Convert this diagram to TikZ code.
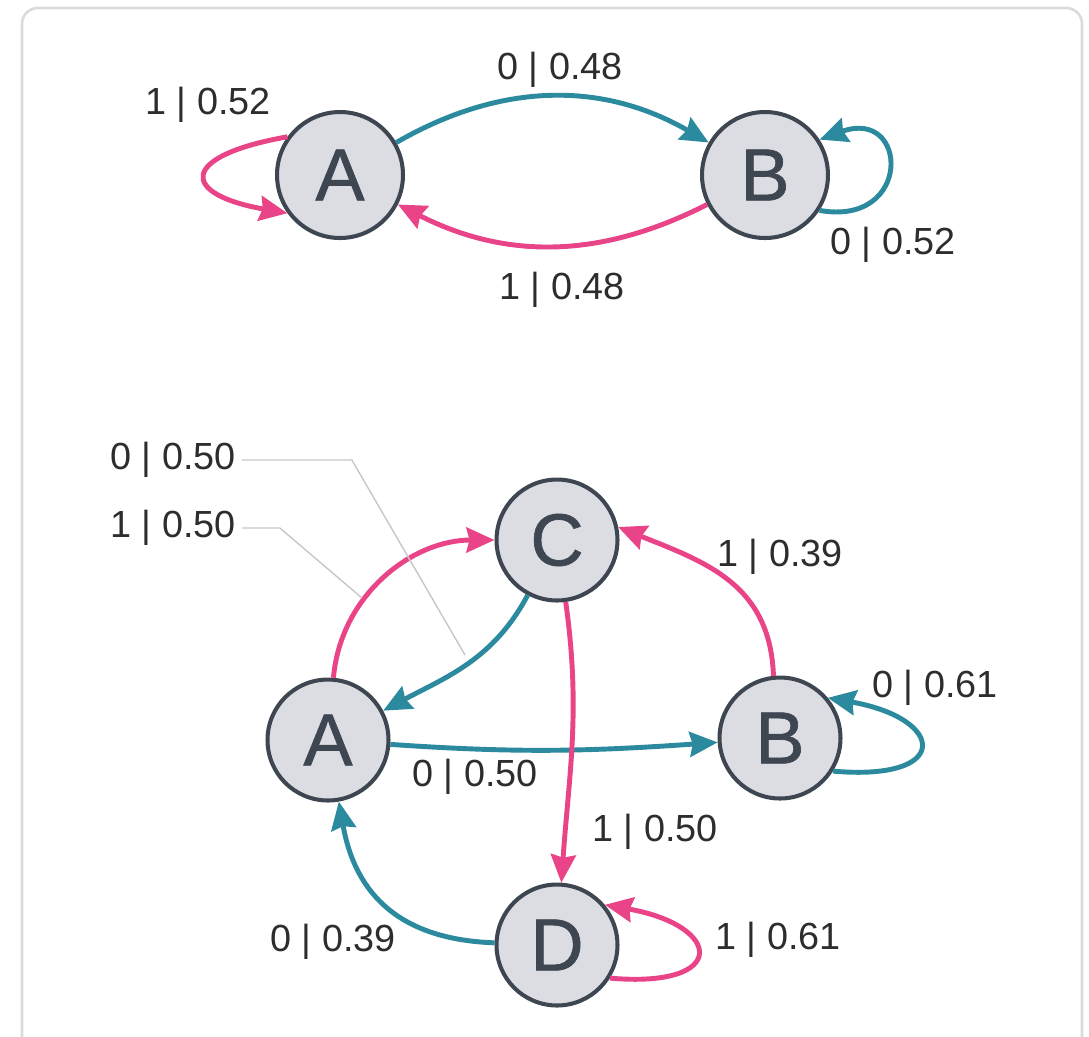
\documentclass[tikz,border=0pt]{standalone}
\usepackage{fontspec}
\setmainfont{Liberation Sans}
\newfontfamily\letterfont[FakeBold=0.9]{Liberation Sans}
\usetikzlibrary{arrows.meta}
\definecolor{teal0}{RGB}{44,138,158}
\definecolor{pink1}{RGB}{232,68,135}
\definecolor{slate}{RGB}{62,70,82}
\definecolor{disc}{RGB}{220,221,226}
\definecolor{ink}{RGB}{45,45,48}

\begin{document}
\begin{tikzpicture}[x=0.02cm, y=0.02cm,
	every node/.style={font=\fontsize{21.5}{24}\selectfont, text=ink},
	state/.style={circle, draw=slate, fill=disc, line width=2.3pt, minimum size=2.42cm, inner sep=0pt, font=\letterfont\fontsize{42}{44}\selectfont, text=slate},
	trans/.style={line width=2.8pt, -{Stealth[length=0.56cm,width=0.5cm,inset=0.06cm]}},
	zero/.style={trans, draw=teal0},
	one/.style={trans, draw=pink1},
	leader/.style={draw=black!22, line width=0.8pt}]
	\clip (0,0) rectangle (1089,-1036);
	\draw[black!14, line width=1.5pt, rounded corners=9] (22,-8) rectangle (1082,-1080);
	\node[state, minimum size=2.52cm] (A1) at (340,-175) {A};
	\node[state, minimum size=2.52cm] (B1) at (765,-175) {B};
	\draw[zero] (A1) to[out=30, in=150] (B1);
	\draw[one] (B1) to[out=207, in=-27] (A1);
	\draw[one] (A1.144) to[out=190, in=170, distance=2.2cm] (A1.216);
	\draw[zero] (B1.-33) to[out=-10, in=20, distance=1.9cm] (B1.33);
	\node (w052) at (208,-105) {1 | 0.52};
	\node (u048) at (560,-70) {0 | 0.48};
	\node (w048) at (562,-290) {1 | 0.48};
	\node (u052) at (893,-245) {0 | 0.52};
	\node[state] (C2) at (557,-540) {C};
	\node[state] (A2) at (328,-740) {A};
	\node[state] (B2) at (780,-738) {B};
	\node[state] (D2) at (557,-945) {D};
	\draw[one] (A2) to[out=85, in=180] (C2);
	\draw[zero] (C2) to[out=242, in=28] (A2);
	\draw[zero] (A2) to[out=-4, in=184] (B2);
	\draw[one] (C2) to[out=-82, in=86] (D2);
	\draw[one] (B2.96) to[out=92, in=-22, looseness=1.1] (C2.12);
	\draw[zero] (D2) to[out=178, in=-80, looseness=1.15] (A2);
	\draw[zero] (B2.-32) to[out=-5, in=-10, distance=2.4cm] (B2.40);
	\draw[one] (D2.-32) to[out=-5, in=-10, distance=2.4cm] (D2.40);
	\node (uCA) at (173,-460) {0 | 0.50};
	\node (wAC) at (173,-528) {1 | 0.50};
	\node (wBC) at (780,-557) {1 | 0.39};
	\node (uBB) at (935,-688) {0 | 0.61};
	\node (uAB) at (475,-777) {0 | 0.50};
	\node (wCD) at (655,-832) {1 | 0.50};
	\node (uDA) at (333,-942) {0 | 0.39};
	\node (wDD) at (778,-940) {1 | 0.61};
	\coordinate (hCA) at (465,-655);
	\coordinate (hAC) at (362,-598);
	\draw[leader] (uCA.east) -- ++(110,0) -- (hCA);
	\draw[leader] (wAC.east) -- ++(38,0) -- (hAC);
\end{tikzpicture}
\end{document}
